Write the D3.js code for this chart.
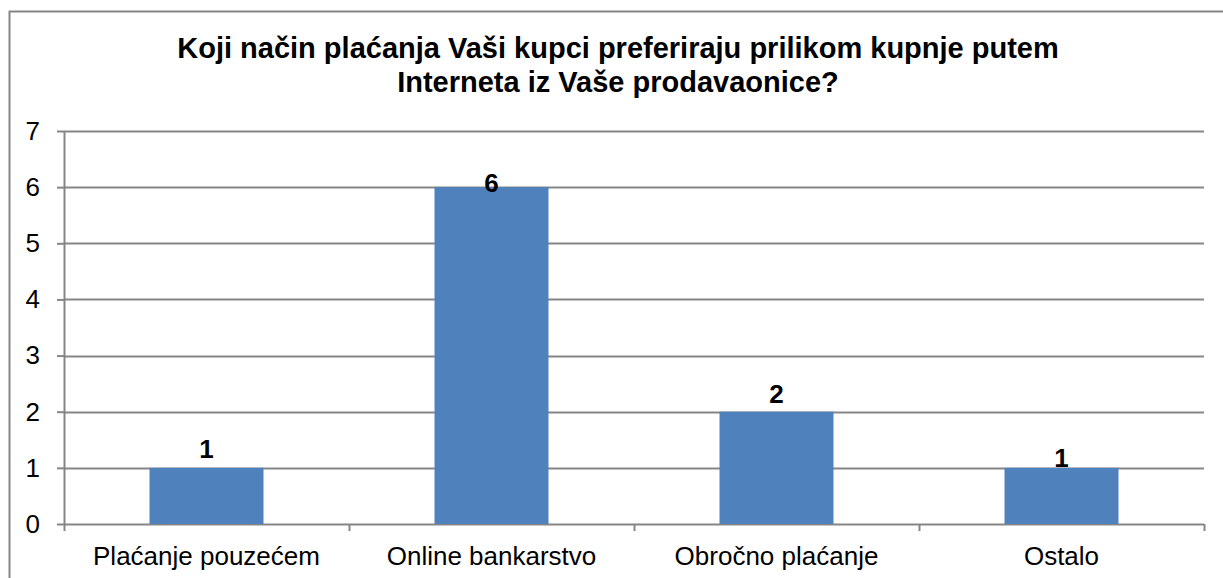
<!DOCTYPE html>
<html>
<head>
<meta charset="utf-8">
<style>
  body { margin: 0; background: #fff; }
  svg { display: block; font-family: "Liberation Sans", Arial, sans-serif; }
</style>
</head>
<body>
<svg width="1223" height="578"></svg>
<script src="https://d3js.org/d3.v7.min.js"></script>
<script>

var titleLines = ["Koji način plaćanja Vaši kupci preferiraju prilikom kupnje putem",
                  "Interneta iz Vaše prodavaonice?"];
var categories = ["Plaćanje pouzećem", "Online bankarstvo", "Obročno plaćanje", "Ostalo"];
var values = [1, 6, 2, 1];
var yTicks = [0, 1, 2, 3, 4, 5, 6, 7];

// label nudges (px, relative to bar top) to mimic the original placement
var labelNudge = [-10, 5, -9, -1];

var svg = d3.select("svg"),
    margin = {top: 131, right: 19, bottom: 54, left: 64},
    width = +svg.attr("width") - margin.left - margin.right,
    height = +svg.attr("height") - margin.top - margin.bottom,
    grey = "#868686";

// outer frame (cut off at right and bottom like the source)
svg.append("rect")
    .attr("x", 9.5)
    .attr("y", 11.5)
    .attr("width", 1240)
    .attr("height", 600)
    .attr("fill", "none")
    .attr("stroke", grey)
    .attr("stroke-width", 2);

svg.append("text")
    .attr("x", 622)
    .attr("y", 58)
    .attr("text-anchor", "middle")
    .attr("font-size", 29)
    .attr("font-weight", "bold")
    .attr("fill", "#000")
  .selectAll("tspan")
  .data(titleLines)
  .enter().append("tspan")
    .attr("x", 618)
    .attr("dy", function(d, i) { return i ? 34 : 0; })
    .text(function(d) { return d; });

var g = svg.append("g").attr("transform", "translate(" + margin.left + "," + margin.top + ")");

var x = d3.scaleBand()
    .domain(categories)
    .range([0, width])
    .paddingInner(0.6)
    .paddingOuter(0.3);

var y = d3.scaleLinear()
    .domain([0, 7])
    .range([height, 0]);

// gridlines
g.append("g")
  .selectAll("line")
  .data(yTicks)
  .enter().append("line")
    .attr("x1", 0)
    .attr("x2", width)
    .attr("y1", function(d) { return Math.round(y(d)) + 0.5; })
    .attr("y2", function(d) { return Math.round(y(d)) + 0.5; })
    .attr("stroke", grey)
    .attr("stroke-width", 2);

// bars
g.append("g")
  .selectAll("rect")
  .data(values)
  .enter().append("rect")
    .attr("x", function(d, i) { return x(categories[i]); })
    .attr("y", function(d) { return y(d); })
    .attr("width", x.bandwidth())
    .attr("height", function(d) { return height - y(d); })
    .attr("fill", "#4f81bd");

// y axis
var yAxis = g.append("g")
    .call(d3.axisLeft(y).tickValues(yTicks).tickSize(7).tickPadding(17).tickFormat(d3.format("d")));
yAxis.select(".domain").attr("stroke", grey).attr("stroke-width", 2).attr("d", "M0.5,0V" + height);
yAxis.selectAll(".tick line").attr("stroke", grey).attr("stroke-width", 2);
yAxis.selectAll("text").attr("font-size", 26).attr("fill", "#000").attr("font-family", "inherit");

// x axis: ticks at category boundaries
var bounds = d3.range(categories.length + 1).map(function(i) { return i * x.step(); });
g.append("g")
  .selectAll("line")
  .data(bounds)
  .enter().append("line")
    .attr("x1", function(d) { return d + 0.5; })
    .attr("x2", function(d) { return d + 0.5; })
    .attr("y1", height)
    .attr("y2", height + 7)
    .attr("stroke", grey)
    .attr("stroke-width", 2);

g.append("g")
  .selectAll("text")
  .data(categories)
  .enter().append("text")
    .attr("x", function(d) { return x(d) + x.bandwidth() / 2; })
    .attr("y", height + 41)
    .attr("text-anchor", "middle")
    .attr("font-size", 26)
    .attr("fill", "#000")
    .text(function(d) { return d; });

// value labels
g.append("g")
  .selectAll("text")
  .data(values)
  .enter().append("text")
    .attr("x", function(d, i) { return x(categories[i]) + x.bandwidth() / 2; })
    .attr("y", function(d, i) { return y(d) + labelNudge[i]; })
    .attr("text-anchor", "middle")
    .attr("font-size", 26)
    .attr("font-weight", "bold")
    .attr("fill", "#000")
    .text(function(d) { return d; });

</script>
</body>
</html>
